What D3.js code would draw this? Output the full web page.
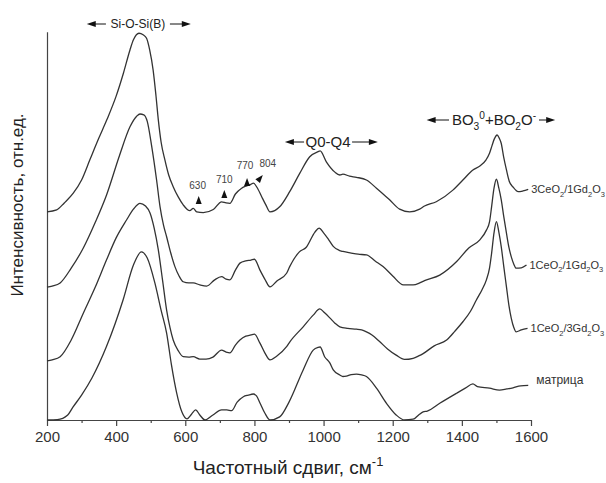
<!DOCTYPE html>
<html><head><meta charset="utf-8">
<script src="https://cdn.jsdelivr.net/npm/d3@7"></script>
<style>body{margin:0;background:#fff}text{font-family:"Liberation Sans",Arial,sans-serif}</style>
</head><body><svg id="c" width="606" height="483"></svg>
<script>
// Raman spectra (intensity, a.u., vertically offset for clarity), x in cm^-1
const seriesNames = ["3CeO2/1Gd2O3", "1CeO2/1Gd2O3", "1CeO2/3Gd2O3", "матрица"];

const s3Ce1Gd = [[200,53.6],[228,54.1],[250,55.9],[276,58.4],[300,61.8],[324,67.0],[350,72.6],[373,77.3],[400,83.4],[421,89.3],[440,95.3],[450,97.9],[466,99.6],[478,99.2],[488,98.3],[497,95.3],[507,90.1],[515,83.7],[522,77.3],[530,71.6],[541,67.0],[552,63.1],[565,60.1],[580,57.4],[594,55.4],[613,53.9],[623,54.5],[633,53.6],[652,53.4],[681,54.2],[705,56.2],[718,55.9],[729,55.8],[745,58.2],[763,59.7],[777,60.3],[790,60.7],[797,61.0],[810,59.5],[821,57.5],[833,55.4],[845,53.6],[873,54.9],[902,58.8],[931,63.5],[960,67.8],[984,69.1],[990,69.3],[1008,66.5],[1032,63.9],[1047,63.1],[1056,63.3],[1075,62.8],[1095,62.5],[1124,61.8],[1153,59.7],[1191,56.7],[1220,54.3],[1249,53.6],[1278,54.3],[1292,55.1],[1326,56.2],[1374,59.2],[1403,61.8],[1432,64.4],[1452,65.4],[1470,67.0],[1480,68.7],[1487,70.6],[1494,72.4],[1502,73.4],[1508,72.6],[1514,71.2],[1521,67.7],[1529,64.4],[1537,61.5],[1548,60.0],[1563,58.8],[1577,59.0],[1592,59.4]];

const s1Ce1Gd = [[200,34.2],[215,34.5],[238,35.3],[270,39.1],[305,44.3],[340,51.0],[372,57.9],[410,68.2],[440,75.5],[460,78.3],[469,78.8],[480,78.6],[490,76.9],[503,70.4],[517,61.8],[527,54.9],[537,50.2],[546,47.2],[558,43.0],[570,39.5],[582,37.1],[594,35.6],[610,35.3],[623,35.3],[642,34.8],[662,34.5],[685,36.1],[705,36.9],[718,36.3],[729,36.1],[745,38.6],[758,40.4],[775,41.0],[790,41.2],[800,41.4],[816,38.6],[830,36.3],[845,34.3],[865,35.8],[893,37.8],[902,39.5],[930,43.3],[950,44.5],[975,48.4],[987,49.4],[1000,48.2],[1015,46.4],[1028,44.7],[1045,43.7],[1056,43.4],[1080,43.0],[1100,42.7],[1124,42.5],[1150,40.9],[1172,39.5],[1200,37.1],[1231,34.8],[1259,34.8],[1278,35.3],[1292,35.9],[1336,37.3],[1385,40.8],[1420,44.3],[1452,46.4],[1471,48.9],[1480,51.0],[1486,54.9],[1493,59.7],[1500,62.0],[1507,59.7],[1514,56.7],[1521,52.5],[1529,48.1],[1536,44.5],[1543,42.0],[1550,40.2],[1557,39.1],[1572,39.2],[1587,39.9]];

const s1Ce3Gd = [[200,15.2],[215,15.5],[238,16.3],[270,20.6],[305,27.5],[340,34.3],[372,41.2],[400,46.9],[430,51.5],[450,54.3],[469,55.8],[485,55.1],[498,53.3],[510,49.4],[522,43.8],[535,35.5],[546,28.3],[556,23.7],[565,20.6],[580,17.8],[594,16.3],[610,16.2],[623,16.3],[642,15.7],[660,15.7],[680,16.2],[705,18.0],[718,17.5],[729,17.3],[745,19.3],[758,20.6],[775,21.6],[790,21.9],[800,22.1],[816,19.8],[830,17.3],[845,15.5],[865,16.5],[893,18.9],[903,20.2],[941,24.0],[970,27.0],[989,28.6],[1003,27.6],[1018,26.3],[1032,25.0],[1047,24.0],[1070,23.6],[1095,23.4],[1110,23.2],[1124,22.7],[1140,21.9],[1162,20.2],[1185,18.3],[1210,16.7],[1234,15.6],[1259,15.9],[1275,16.5],[1288,17.1],[1320,19.1],[1356,20.6],[1380,22.9],[1403,25.3],[1425,28.0],[1442,30.9],[1458,33.5],[1471,36.1],[1480,39.1],[1486,42.9],[1493,48.2],[1500,51.1],[1507,48.4],[1514,44.6],[1521,39.7],[1529,34.3],[1536,29.6],[1543,26.2],[1550,23.9],[1557,22.7],[1572,23.2],[1590,23.6]];

const sMatrix = [[200,0],[230,0.1],[260,1.3],[275,3.3],[300,6.4],[330,10.8],[372,18.9],[420,30.9],[450,39.9],[473,43.3],[490,41.7],[512,35.3],[530,28.3],[546,22.4],[560,14.2],[575,7.0],[590,2.1],[605,0.3],[618,1.5],[630,2.6],[642,1.3],[657,0],[680,1.3],[705,2.6],[720,2.6],[734,2.4],[750,4.6],[768,6.0],[782,6.4],[797,6.7],[806,6.2],[816,4.4],[830,1.8],[845,0],[873,0.8],[900,4.6],[941,12.9],[970,18.0],[984,18.7],[990,18.8],[1003,16.3],[1018,14.7],[1028,12.9],[1047,11.6],[1056,11.2],[1066,11.3],[1080,11.7],[1095,11.8],[1110,11.6],[1124,11.2],[1153,8.2],[1182,4.3],[1210,1.3],[1234,0],[1259,0.2],[1275,1.3],[1288,2.1],[1300,2.3],[1336,4.3],[1385,6.9],[1410,8.2],[1432,9.3],[1445,8.6],[1480,8.2],[1509,7.7],[1530,8.0],[1548,8.3],[1570,8.8],[1592,8.9]];

const xTicksMajor = [200,400,600,800,1000,1200,1400,1600];
const xTicksMinor = [300,500,700,900,1100,1300,1500];
const peakMarks = [630, 710, 770, 804];
// band regions [left arrow tip, right arrow tip, label centre] in cm^-1
const bandSiOSi = [315, 616, 463];
const bandQ = [888, 1157, 1013];
const bandBO = [1298, 1670, 1493];

const svg = d3.select("#c");
const x = d3.scaleLinear().domain([200,1600]).range([47,531]);
const y = d3.scaleLinear().domain([0,100]).range([420,31.7]);
const ink = "#333";
const FONT = '"Liberation Sans",Arial,sans-serif';

// axes
const gx = svg.append("g").attr("transform",`translate(0,${y(0)})`)
  .call(d3.axisBottom(x).tickValues(xTicksMajor).tickSize(6).tickSizeOuter(0).tickFormat(d3.format("d")));
gx.select(".domain").attr("stroke","#444").attr("stroke-width",1.2);
gx.selectAll(".tick line").attr("stroke","#444").attr("stroke-width",1.2);
gx.selectAll(".tick text").attr("font-size",15).attr("fill","#333").attr("y",10).attr("dy","0.8em")
  .attr("font-family",FONT);
const gm = svg.append("g").attr("transform",`translate(0,${y(0)})`)
  .call(d3.axisBottom(x).tickValues(xTicksMinor).tickSize(3).tickSizeOuter(0).tickFormat(""));
gm.select(".domain").remove();
gm.selectAll(".tick line").attr("stroke","#444").attr("stroke-width",1.2);

const gy = svg.append("g").attr("transform",`translate(${x(200)},0)`)
  .call(d3.axisLeft(y).tickValues([]).tickSizeOuter(0));
gy.select(".domain").attr("stroke","#444").attr("stroke-width",1.2);

// rich text helper: parts [text, "sub"|"sup"|undefined]
function rich(sel, parts, fs){
  let cur = 0;
  parts.forEach(p=>{
    const target = p[1]==="sub" ? fs*0.3 : p[1]==="sup" ? -fs*0.4 : 0;
    const t = sel.append("tspan").attr("dy", target-cur).text(p[0]);
    if(p[1]) t.attr("font-size", fs*0.68);
    cur = target;
  });
}

// titles
const xt = svg.append("text").attr("x",288).attr("y",474).attr("text-anchor","middle")
  .attr("font-size",19).attr("fill","#222");
rich(xt, [["Частотный сдвиг, см"],["-1","sup"]], 19);
svg.append("text").attr("transform","translate(23,205) rotate(-90)").attr("text-anchor","middle")
  .attr("font-size",17).attr("fill","#222").text("Интенсивность, отн.ед.");

// lines
const line = d3.line().x(d=>x(d[0])).y(d=>y(d[1])).curve(d3.curveMonotoneX);
const allSeries = [s3Ce1Gd, s1Ce1Gd, s1Ce3Gd, sMatrix];
svg.append("g").selectAll("path").data(allSeries).join("path")
  .attr("d",line).attr("fill","none").attr("stroke",ink).attr("stroke-width",1.3);

// series labels
const labelParts = [
  [["3CeO"],["2","sub"],["/1Gd"],["2","sub"],["O"],["3","sub"]],
  [["1CeO"],["2","sub"],["/1Gd"],["2","sub"],["O"],["3","sub"]],
  [["1CeO"],["2","sub"],["/3Gd"],["2","sub"],["O"],["3","sub"]],
  [["матрица"]]
];
allSeries.forEach((s,i)=>{
  const last = s[s.length-1];
  const t = svg.append("text").attr("x", x(last[0]) + (i===3?8:3)).attr("y", y(last[1]) + (i===3?-1:4))
    .attr("font-size", i===3?12:11).attr("fill","#333");
  rich(t, labelParts[i], 11);
});

// band brackets
function arrowLine(x1, x2, yy){
  const dir = Math.sign(x2-x1);
  svg.append("line").attr("x1",x1).attr("x2",x2-dir*7).attr("y1",yy).attr("y2",yy)
    .attr("stroke","#111").attr("stroke-width",1);
  svg.append("path").attr("d",`M${x2},${yy}L${x2-dir*9},${yy-3}L${x2-dir*9},${yy+3}Z`).attr("fill","#111");
}
function band(b, label, yy, fs, half){
  const c = x(b[2]);
  const t = svg.append("text").attr("x",c).attr("y",yy + fs*0.35).attr("text-anchor","middle")
    .attr("font-size",fs).attr("fill","#222");
  rich(t, label, fs);
  arrowLine(c-half-2, x(b[0]), yy);
  arrowLine(c+half+2, x(b[1]), yy);
}
band(bandSiOSi, [["Si-O-Si(B)"]], 24, 12, 30);
band(bandQ, [["Q0-Q4"]], 142, 15, 22);
band(bandBO, [["BO"],["3","sub"],["0","sup"],["+BO"],["2","sub"],["O"],["-","sup"]], 120, 15, 43);

// peak annotations (small triangles)
const markPos = {630:[x(630)+2,189,x(630)+3,196,0],710:[x(710)+1,183,x(710)+1,190,0],770:[x(770)+1,169,x(770)+3,178,0],804:[x(804)+12,167,x(804)+7,175,40]};
peakMarks.forEach(p=>{
  const m = markPos[p];
  svg.append("text").attr("x",m[0]).attr("y",m[1]).attr("text-anchor","middle").attr("font-size",10).attr("fill","#444").text(p);
  svg.append("path").attr("transform",`translate(${m[2]},${m[3]}) rotate(${m[4]})`)
    .attr("d","M0,0L3,8L-3,8Z").attr("fill","#111");
});
</script></body></html>
